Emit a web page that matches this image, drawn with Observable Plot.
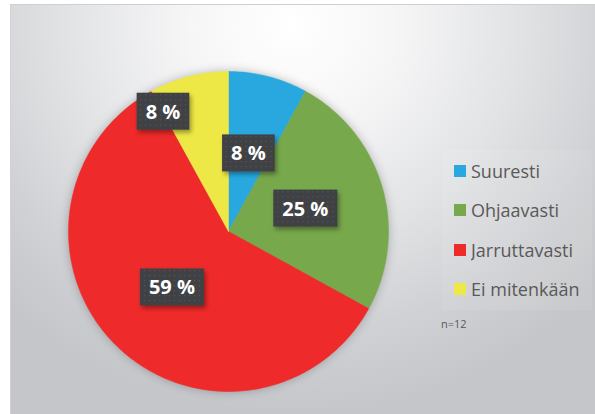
<!DOCTYPE html>
<html><head><meta charset="utf-8">
<script src="https://cdn.jsdelivr.net/npm/d3@7"></script>
<script src="https://cdn.jsdelivr.net/npm/@observablehq/plot@0.6"></script>
<style>
html,body{margin:0;padding:0}
body{background:#fff;width:595px;height:414px;overflow:hidden;position:relative;font-family:"Open Sans",sans-serif}
#bg{position:absolute;left:10px;top:4px;width:585px;height:410px;border-top:1px solid #cfcfd1;border-left:1px solid #d2d2d4;
 background: radial-gradient(ellipse 70% 95% at 48% 5%, #ffffff 0%, #f6f6f7 25%, #e2e3e5 55%, #d0d1d4 80%, #c5c6c9 100%);}
#lgpanel{position:absolute;left:442px;top:150px;width:150px;height:160px;background:rgba(255,255,255,0.08)}
#chart{position:absolute;left:0;top:0}
#legend{position:absolute;left:454px;top:151px}
#legend .lg-swatch{display:flex;align-items:center;height:39.5px;margin:0;padding:0;font:18px "Open Sans",sans-serif;color:#595959;white-space:nowrap}
#legend .lg-swatch svg{margin-right:5px;flex-shrink:0}
#n{position:absolute;left:441px;top:316px;font:11px "Open Sans",sans-serif;color:#595959}
g[aria-label="line"]{filter:drop-shadow(0 0 5px rgba(0,0,0,0.25))}
.lbl-box{filter:drop-shadow(2px 3px 2px rgba(0,0,0,0.35))}
</style></head>
<body>
<div id="bg"></div>
<div id="lgpanel"></div>
<div id="chart"></div>
<div id="legend"></div>
<div id="n">n=12</div>
<script>
const categories = ["Suuresti", "Ohjaavasti", "Jarruttavasti", "Ei mitenkään"];
const values = [8, 25, 59, 8];
const colors = ["#29a8e0", "#78a84c", "#ee2a2a", "#ede845"];
const labels = ["8 %", "25 %", "59 %", "8 %"];

// slice geometry from the values
const arcs = d3.pie().sort(null).value(d => d)(values);
const pts = [];
arcs.forEach((a, i) => {
  pts.push({cat: categories[i], x: 0, y: 0});
  const n = Math.max(2, Math.ceil((a.endAngle - a.startAngle) / (Math.PI / 180)));
  for (let k = 0; k <= n; k++) {
    const t = a.startAngle + (a.endAngle - a.startAngle) * k / n;
    pts.push({cat: categories[i], x: Math.sin(t), y: -Math.cos(t)});
  }
  pts.push({cat: categories[i], x: 0, y: 0});
});
// label anchors: mid-angle at half radius; the small last slice is pushed out along its start edge (as in the original)
const lab = arcs.map((a, i) => {
  const last = i === arcs.length - 1;
  const t = last ? a.startAngle : (a.startAngle + a.endAngle) / 2;
  const r = last ? 0.85 : 0.5;
  return {x: r * Math.sin(t), y: -r * Math.cos(t), text: labels[i]};
});

const plot = Plot.plot({
  width: 595, height: 414, margin: 0,
  x: {domain: [-1, 1], range: [68, 388], axis: null},
  y: {domain: [-1, 1], range: [71, 391], axis: null},
  color: {domain: categories, range: colors},
  style: {background: "transparent", overflow: "visible"},
  marks: [
    Plot.line(pts, {x: "x", y: "y", z: "cat", fill: "cat", stroke: "cat", strokeWidth: 0.5, curve: "linear"}),
    Plot.text(lab, {x: "x", y: "y", text: "text", fill: "white", fontSize: 20, fontWeight: "bold",
      fontFamily: "Open Sans", textAnchor: "middle", lineAnchor: "middle"})
  ]
});
document.getElementById("chart").append(plot);

// dark label boxes behind the texts
const svg = d3.select(plot);
const defs = svg.insert("defs", ":first-child");
const pat = defs.append("pattern").attr("id", "dots").attr("width", 5).attr("height", 5).attr("patternUnits", "userSpaceOnUse");
pat.append("rect").attr("width", 5).attr("height", 5).attr("fill", "#404145");
pat.append("rect").attr("x", 2).attr("y", 2).attr("width", 1.2).attr("height", 1.2).attr("fill", "#55565a");
svg.selectAll('g[aria-label="text"] text').each(function () {
  const b = this.getBBox();
  const padX = 9, h = 37;
  d3.select(this.parentNode).insert("rect", () => this)
    .attr("class", "lbl-box")
    .attr("x", b.x - padX).attr("y", b.y + b.height / 2 - h / 2)
    .attr("width", b.width + 2 * padX).attr("height", h)
    .attr("transform", this.getAttribute("transform"))
    .attr("fill", "url(#dots)");
});

const leg = Plot.legend({color: {domain: categories, range: colors, type: "ordinal"}, legend: "swatches", columns: 1, swatchSize: 12, className: "lg"});
document.getElementById("legend").append(leg);
</script>
</body></html>
